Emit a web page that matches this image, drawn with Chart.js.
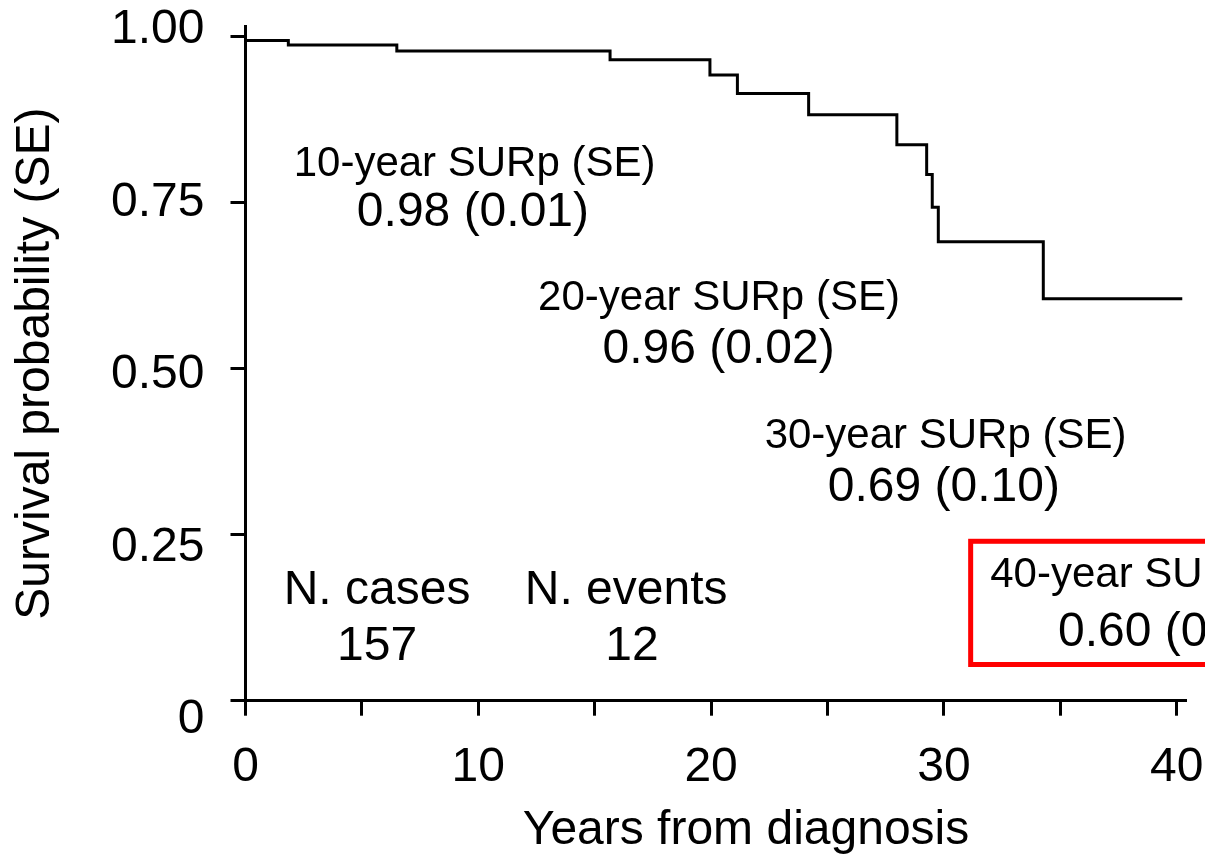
<!DOCTYPE html>
<html>
<head>
<meta charset="utf-8">
<script src="https://cdn.jsdelivr.net/npm/chart.js@4/dist/chart.umd.min.js"></script>
<style>
  html, body { margin: 0; padding: 0; background: #fff; }
  #wrap { width: 1205px; height: 860px; position: relative; }
</style>
</head>
<body>
<div id="wrap"><canvas id="myChart"></canvas></div>
<script>
// Kaplan-Meier step values
const eventYears = [0, 1.84, 6.5, 15.66, 19.95, 21.13, 24.19, 27.98, 29.26, 29.5, 29.76, 34.27];
const survival   = [0.994, 0.987, 0.978, 0.965, 0.942, 0.914, 0.882, 0.837, 0.792, 0.743, 0.691, 0.605];
const lastFollowUp = 40.24;

const xTicks = [0, 5, 10, 15, 20, 25, 30, 35, 40];
const yTicks = [0, 0.25, 0.5, 0.75, 1];
const yTickLabels = ['0', '0.25', '0.50', '0.75', '1.00'];

const surpHeaders = ['10-year SURp (SE)', '20-year SURp (SE)', '30-year SURp (SE)', '40-year SURp (SE)'];
const surpValues  = ['0.98 (0.01)', '0.96 (0.02)', '0.69 (0.10)', '0.60 (0'];
const nCases = 157;
const nEvents = 12;

const FONT = '"Liberation Sans", Arial, sans-serif';

const points = eventYears.map((t, i) => ({ x: t, y: survival[i] }));
points.push({ x: lastFollowUp, y: survival[survival.length - 1] });

// text placed in data units (years, probability)
const notes = [
  { text: surpHeaders[0], x: 9.84, y: 0.808, size: 42 },
  { text: surpValues[0],  x: 9.77, y: 0.734, size: 48 },
  { text: surpHeaders[1], x: 20.34, y: 0.606, size: 42 },
  { text: surpValues[1],  x: 20.32, y: 0.528, size: 48 },
  { text: surpHeaders[2], x: 30.07, y: 0.398, size: 42 },
  { text: surpValues[2],  x: 30.0, y: 0.320, size: 48 },
  { text: surpHeaders[3], x: 31.99, y: 0.189, size: 42, align: 'left' },
  { text: surpValues[3],  x: 34.9, y: 0.103, size: 48, align: 'left' },
  { text: 'N. cases', x: 5.65, y: 0.165, size: 48 },
  { text: String(nCases), x: 5.65, y: 0.081, size: 48 },
  { text: 'N. events', x: 16.35, y: 0.165, size: 48 },
  { text: String(nEvents), x: 16.6, y: 0.081, size: 48 }
];
const box = { x0: 31.15, x1: 41.8, y0: 0.0545, y1: 0.240 };
const xTitle = 'Years from diagnosis';
const xTitleAt = 21.5; // years, the title is not centred on the axis

// y labels in the source sit a little apart from their ticks (wider spacing)
const yLabelDrift = 26;

const notesPlugin = {
  id: 'notes',
  afterDatasetsDraw(chart) {
    const { ctx, scales: { x, y } } = chart;
    ctx.save();
    ctx.fillStyle = '#000';
    ctx.textBaseline = 'middle';
    notes.forEach(n => {
      ctx.font = n.size + 'px ' + FONT;
      ctx.textAlign = n.align || 'center';
      ctx.fillText(n.text, x.getPixelForValue(n.x), y.getPixelForValue(n.y));
    });
    // y tick labels
    ctx.font = '48px ' + FONT;
    ctx.textAlign = 'right';
    yTicks.forEach((v, i) => {
      const py = y.getPixelForValue(v) + (0.75 - v) * yLabelDrift;
      ctx.fillText(yTickLabels[i], y.right - 15 - 26, py);
    });
    // x axis title
    ctx.textAlign = 'center';
    ctx.fillText(xTitle, x.getPixelForValue(xTitleAt), x.bottom - 29);
    ctx.strokeStyle = '#ff0000';
    ctx.lineWidth = 5;
    const l = x.getPixelForValue(box.x0), r = x.getPixelForValue(box.x1);
    const t = y.getPixelForValue(box.y1), b = y.getPixelForValue(box.y0);
    ctx.strokeRect(l, t, r - l, b - t);
    ctx.restore();
  }
};

function noPad(axis) {
  axis.paddingLeft = 0;
  axis.paddingRight = 0;
  axis.paddingTop = 0;
  axis.paddingBottom = 0;
}

const config = {
  type: 'line',
  data: {
    datasets: [{
      data: points,
      stepped: 'before',
      borderColor: '#000',
      borderWidth: 3,
      pointRadius: 0,
      fill: false
    }]
  },
  options: {
    responsive: true,
    maintainAspectRatio: false,
    animation: false,
    layout: { padding: { top: 26.5, right: 19, left: 7, bottom: 0 } },
    plugins: { legend: { display: false }, tooltip: { enabled: false } },
    scales: {
      x: {
        type: 'linear',
        min: 0,
        max: 40.4,
        afterBuildTicks: axis => { axis.ticks = xTicks.map(v => ({ value: v })); },
        afterFit: axis => { axis.height = 159.3; noPad(axis); },
        ticks: {
          autoSkip: false,
          maxRotation: 0,
          padding: 23,
          color: '#000',
          font: { family: FONT, size: 48 },
          callback: v => (v % 10 === 0 ? String(v) : '')
        },
        grid: { drawOnChartArea: false, tickLength: 15, tickWidth: 3, color: '#000' },
        border: { display: true, width: 3, color: '#000' },
        title: { display: false }
      },
      y: {
        min: 0,
        max: 1.015,
        afterBuildTicks: axis => { axis.ticks = yTicks.map(v => ({ value: v })); },
        afterFit: axis => { axis.width = 238.5; noPad(axis); },
        ticks: { display: false },
        grid: { drawOnChartArea: false, tickLength: 15, tickWidth: 3, color: '#000' },
        border: { display: true, width: 3, color: '#000' },
        title: { display: true, text: 'Survival probability (SE)', color: '#000', padding: 0, font: { family: FONT, size: 48 } }
      }
    }
  },
  plugins: [notesPlugin]
};

const myChart = new Chart(document.getElementById('myChart'), config);
</script>
</body>
</html>
